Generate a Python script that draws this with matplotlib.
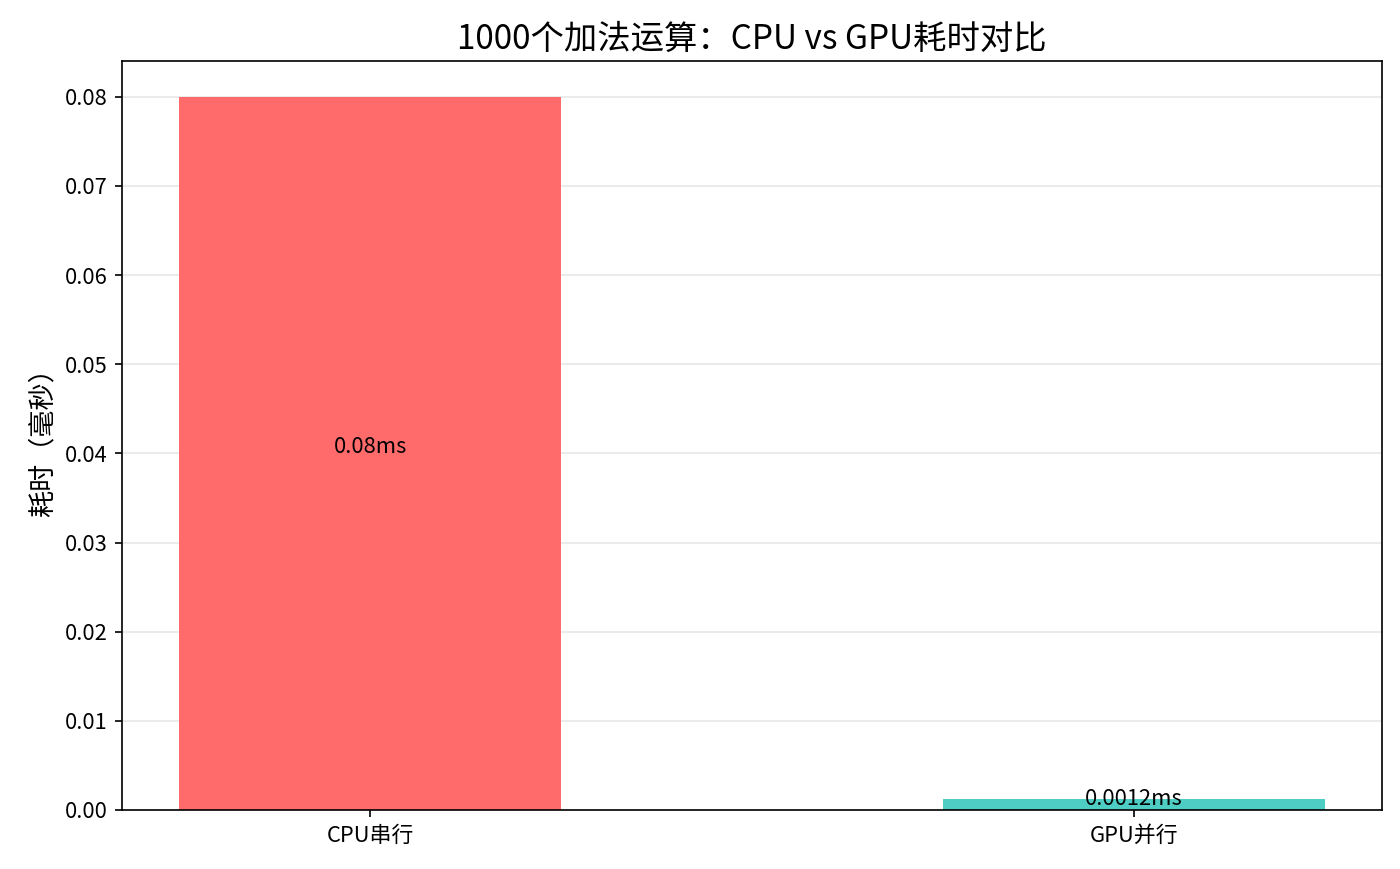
import matplotlib.pyplot as plt

plt.rcParams['font.family'] = ['Noto Sans CJK SC', 'DejaVu Sans']
plt.rcParams['axes.unicode_minus'] = False

methods = ['CPU串行', 'GPU并行']
times_ms = [0.08, 0.0012]
labels = ['0.08ms', '0.0012ms']
colors = ['#FF6B6B', '#4ECDC4']

figure = plt.figure(figsize=(1400 / 150, 869 / 150), dpi=150)
axes = figure.add_axes([122 / 1400, 1 - 810 / 869, 1260 / 1400, 749 / 869])

bars = axes.bar(methods, times_ms, color=colors, width=0.5)
axes.set_title('1000个加法运算：CPU vs GPU耗时对比', fontsize=16)
axes.set_ylabel('耗时（毫秒）', fontsize=13)
axes.tick_params(labelsize=10.5)
axes.grid(axis='y', alpha=0.3)
axes.set_axisbelow(True)

for bar, label in zip(bars, labels):
    axes.text(bar.get_x() + bar.get_width() / 2, bar.get_height() / 2, label,
              ha='center', va='baseline', fontsize=10.5)

figure.savefig('out.png', dpi=150)
